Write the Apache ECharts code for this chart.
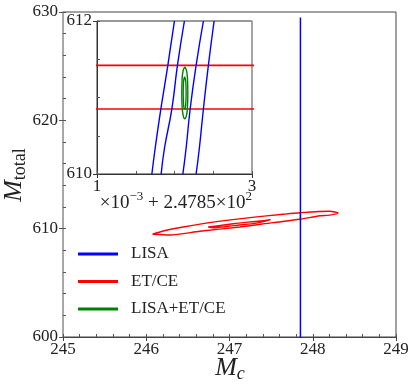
<!DOCTYPE html>
<html>
<head>
<meta charset="utf-8">
<script src="https://cdn.jsdelivr.net/npm/echarts@6/dist/echarts.min.js"></script>
<style>html,body{margin:0;padding:0;background:#fff}#c{width:415px;height:390px}</style>
</head>
<body>
<div id="c"></div>
<script>
// ---------- data ----------
// main panel ticks
const mainXTicks = [245, 246, 247, 248, 249];
const mainYTicks = [600, 610, 620, 630];
// inset ticks (x shown as offset: value = x*1e-3 + 247.85)
const insetXTicks = [1, 3];
const insetYTicks = [610, 612];
const insetOffset = 247.85;

// LISA contour in main panel (appears as a vertical line)
const lisaMainX = [247.852, 247.852];
const lisaMainY = [629.5, 598];

// ET/CE outer contour (main panel)
const etceOuterX = [246.076, 246.204, 246.444, 246.844, 247.244, 247.644, 247.844, 248.204, 248.304, 248.204, 248.084, 247.844, 247.524, 247.124, 246.644, 246.284, 246.076];
const etceOuterY = [609.480, 609.785, 610.154, 610.653, 611.022, 611.327, 611.465, 611.603, 611.447, 611.253, 611.188, 610.865, 610.560, 610.154, 609.757, 609.416, 609.480];
// ET/CE inner contour (main panel)
const etceInnerX = [246.744, 247.044, 247.364, 247.492, 247.340, 247.044, 246.804, 246.744];
const etceInnerY = [610.154, 610.460, 610.710, 610.837, 610.540, 610.280, 610.080, 610.154];

// inset: LISA contour edges (x in 1e-3 offset units)
const insetLisaY = [612.0, 611.42, 610.85, 610.34, 610.0];
const insetLisa1X = [1.999, 1.914, 1.824, 1.751, 1.708];
const insetLisa2X = [2.128, 2.038, 1.966, 1.871, 1.828];
const insetLisa3X = [2.373, 2.279, 2.202, 2.150, 2.108];
const insetLisa4X = [2.511, 2.437, 2.373, 2.321, 2.279];
// inset: ET/CE contour edges (nearly horizontal)
const insetEtceX = [0.9, 3.1];
const insetEtce1Y = [611.42, 611.42];
const insetEtce2Y = [610.85, 610.85];
// inset: combined LISA+ET/CE contours
const combOuterX = [2.133, 2.155, 2.168, 2.172, 2.168, 2.155, 2.133, 2.111, 2.098, 2.094, 2.098, 2.111, 2.133];
const combOuterY = [611.40, 611.35, 611.23, 611.06, 610.89, 610.77, 610.72, 610.77, 610.89, 611.06, 611.23, 611.35, 611.40];
const combInnerX = [2.131, 2.145, 2.150, 2.145, 2.131, 2.117, 2.112, 2.117, 2.131];
const combInnerY = [611.27, 611.21, 611.06, 610.91, 610.85, 610.91, 611.06, 611.21, 611.27];

// ---------- helpers ----------
const zip = (xs, ys) => xs.map((x, i) => [x, ys[i]]);
const toMain = (xs) => xs.map(v => insetOffset + v * 1e-3);

const BLUE = '#0000ff', RED = '#ff0000', GREEN = '#008000';
const FONT = 'Liberation Serif';
const TXT = '#222';

function lineSeries(name, color, data, xi, yi, width, smooth, z) {
  return {
    name: name, type: 'line', xAxisIndex: xi, yAxisIndex: yi,
    data: data, showSymbol: false, symbol: 'none', smooth: smooth || false,
    lineStyle: { color: color, width: width || 1.4, opacity: 1 },
    itemStyle: { color: color },
    emphasis: { disabled: true },
    z: z || 2, animation: false, clip: true
  };
}

const chart = echarts.init(document.getElementById('c'), null, { renderer: 'canvas' });

const labelFmt = (ticks) => (v) => (ticks.some(t => Math.abs(t - v) < 1e-9) ? String(v) : '');

function minorAxis(grid, min, max, interval, pos, split) {
  return { gridIndex: grid, type: 'value', min: min, max: max, interval: interval, position: pos,
    axisLine: { show: false }, axisLabel: { show: false },
    axisTick: { show: true, inside: true, length: 3, lineStyle: { color: '#555' } },
    minorTick: { show: true, splitNumber: split, length: 3, lineStyle: { color: '#555' } },
    splitLine: { show: false } };
}

const option = {
  animation: false,
  backgroundColor: '#fff',
  grid: [
    { left: 63, top: 12, width: 333, height: 325, show: true, borderColor: '#444', borderWidth: 1, backgroundColor: 'transparent' },
    { left: 97, top: 21, width: 155, height: 153, show: true, borderColor: '#333', borderWidth: 1, backgroundColor: '#fff' }
  ],
  xAxis: [
    { gridIndex: 0, type: 'value', min: 245, max: 249, interval: 1, position: 'bottom',
      axisLine: { show: true, lineStyle: { color: '#444', width: 1 } },
      axisTick: { show: true, inside: false, length: 4, lineStyle: { color: '#444' } },
      axisLabel: { show: true, fontFamily: FONT, fontSize: 17, color: TXT, margin: 4, formatter: labelFmt(mainXTicks) },
      splitLine: { show: false } },
    minorAxis(0, 245, 249, 1, 'bottom', 5),
    { gridIndex: 1, type: 'value', min: 1, max: 3, interval: 2, position: 'bottom',
      axisLine: { show: true, lineStyle: { color: '#333', width: 1 } },
      axisTick: { show: true, inside: false, length: 4, lineStyle: { color: '#333' } },
      axisLabel: { show: true, fontFamily: FONT, fontSize: 17, color: TXT, margin: 4, formatter: labelFmt(insetXTicks) },
      splitLine: { show: false } },
    minorAxis(1, 1, 3, 2, 'bottom', 4)
  ],
  yAxis: [
    { gridIndex: 0, type: 'value', min: 600, max: 630, interval: 10, position: 'left',
      axisLine: { show: true, lineStyle: { color: '#aaa', width: 1.5 } },
      axisTick: { show: true, inside: false, length: 4, lineStyle: { color: '#555' } },
      axisLabel: { show: true, fontFamily: FONT, fontSize: 17, color: TXT, margin: 5, formatter: labelFmt(mainYTicks) },
      splitLine: { show: false } },
    minorAxis(0, 600, 630, 10, 'left', 5),
    { gridIndex: 1, type: 'value', min: 610, max: 612, interval: 2, position: 'left',
      axisLine: { show: true, lineStyle: { color: '#333', width: 1 } },
      axisTick: { show: true, inside: false, length: 4, lineStyle: { color: '#333' } },
      axisLabel: { show: true, fontFamily: FONT, fontSize: 17, color: TXT, margin: 5, formatter: labelFmt(insetYTicks) },
      splitLine: { show: false } },
    minorAxis(1, 610, 612, 2, 'left', 4),
    { gridIndex: 1, type: 'value', min: 610, max: 612, interval: 2, position: 'right',
      axisLine: { show: true, lineStyle: { color: '#aaa', width: 1.5 } },
      axisLabel: { show: false }, axisTick: { show: false }, splitLine: { show: false } }
  ],
  legend: {
    orient: 'vertical', left: 78, top: 244, padding: 0,
    itemWidth: 40, itemHeight: 3, itemGap: 7.5, icon: 'rect',
    data: ['LISA', 'ET/CE', 'LISA+ET/CE'],
    textStyle: { fontFamily: FONT, fontSize: 17, color: TXT, lineHeight: 20, padding: [0, 0, 0, 8] }
  },
  series: [
    // main panel
    lineSeries('ET/CE', RED, zip(etceOuterX, etceOuterY), 0, 0, 1.4, 0.25),
    lineSeries('ET/CE', RED, zip(etceInnerX, etceInnerY), 0, 0, 1.4, 0.25),
    lineSeries('LISA+ET/CE', GREEN, zip(toMain(combOuterX), combOuterY), 0, 0, 1.3, true),
    lineSeries('LISA', BLUE, zip(lisaMainX, lisaMainY), 0, 0, 1.5, false, 3),
    // inset
    lineSeries('ET/CE', RED, zip(insetEtceX, insetEtce1Y), 2, 2, 1.6),
    lineSeries('ET/CE', RED, zip(insetEtceX, insetEtce2Y), 2, 2, 1.6),
    lineSeries('LISA', BLUE, zip(insetLisa1X, insetLisaY), 2, 2, 1.4, true, 3),
    lineSeries('LISA', BLUE, zip(insetLisa2X, insetLisaY), 2, 2, 1.4, true, 3),
    lineSeries('LISA', BLUE, zip(insetLisa3X, insetLisaY), 2, 2, 1.4, true, 3),
    lineSeries('LISA', BLUE, zip(insetLisa4X, insetLisaY), 2, 2, 1.4, true, 3),
    lineSeries('LISA+ET/CE', GREEN, zip(combOuterX, combOuterY), 2, 2, 1.4, true, 4),
    lineSeries('LISA+ET/CE', GREEN, zip(combInnerX, combInnerY), 2, 2, 1.4, true, 4)
  ],
  graphic: [
    { type: 'text', x: 230, y: 368, z: 10,
      style: { text: '{m|M}{s|c}', align: 'center', verticalAlign: 'middle',
        rich: { m: { fontFamily: FONT, fontStyle: 'italic', fontSize: 26, lineHeight: 30, fill: TXT, color: TXT },
                s: { fontFamily: FONT, fontStyle: 'italic', fontSize: 18, lineHeight: 14, verticalAlign: 'bottom', fill: TXT, color: TXT } } } },
    { type: 'text', x: 14, y: 175, rotation: Math.PI / 2, z: 10,
      style: { text: '{m|M}{s|total}', align: 'center', verticalAlign: 'middle',
        rich: { m: { fontFamily: FONT, fontStyle: 'italic', fontSize: 26, lineHeight: 30, fill: TXT, color: TXT },
                s: { fontFamily: FONT, fontSize: 18, lineHeight: 14, verticalAlign: 'bottom', fill: TXT, color: TXT } } } },
    { type: 'text', x: 252, y: 203, z: 10,
      style: { text: '{b|×10}{p|−3}{b| + 2.4785×10}{p|2}', align: 'right', verticalAlign: 'middle',
        rich: { b: { fontFamily: FONT, fontSize: 19, lineHeight: 26, fill: TXT, color: TXT },
                p: { fontFamily: FONT, fontSize: 13, lineHeight: 6, verticalAlign: 'top', fill: TXT, color: TXT } } } }
  ]
};
chart.setOption(option);
</script>
</body>
</html>
